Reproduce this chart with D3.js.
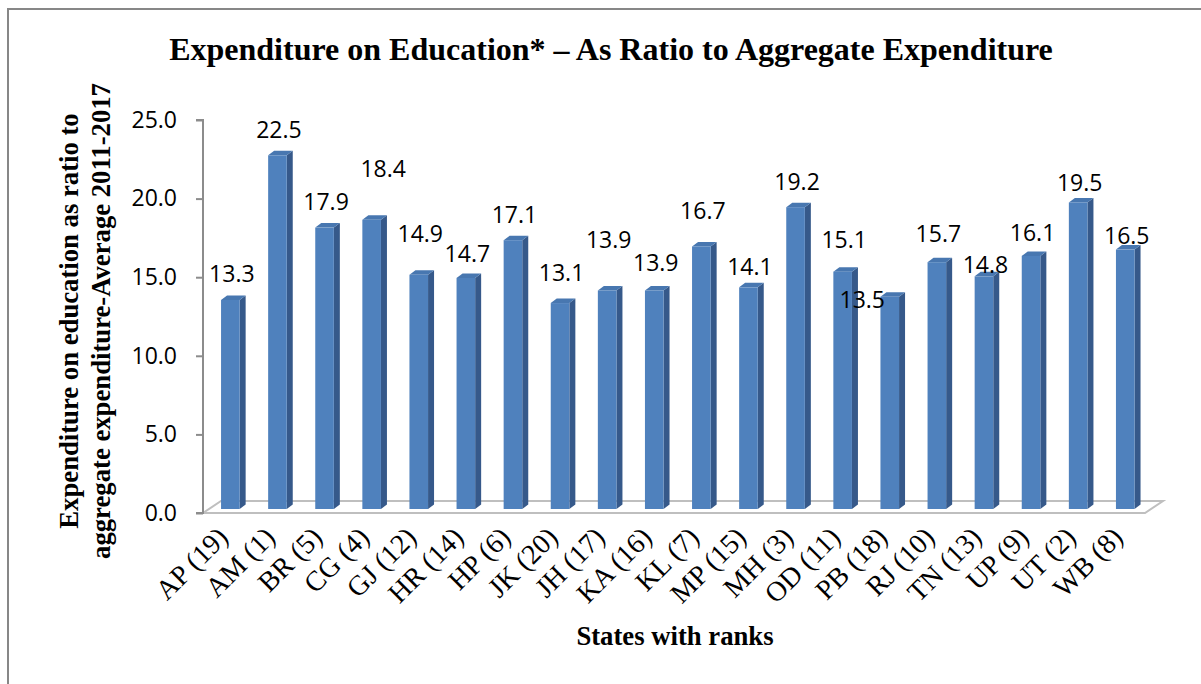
<!DOCTYPE html>
<html>
<head>
<meta charset="utf-8">
<script src="https://cdn.jsdelivr.net/npm/d3@7"></script>
<style>
  html, body { margin: 0; padding: 0; background: #fff; }
  svg { display: block; }
</style>
</head>
<body>
<svg id="chart" width="1201" height="684"></svg>
<script>
const categories = ["AP (19)", "AM (1)", "BR (5)", "CG (4)", "GJ (12)", "HR (14)", "HP (6)", "JK (20)", "JH (17)", "KA (16)", "KL (7)", "MP (15)", "MH (3)", "OD (11)", "PB (18)", "RJ (10)", "TN (13)", "UP (9)", "UT (2)", "WB (8)"];
const values = [13.3, 22.5, 17.9, 18.4, 14.9, 14.7, 17.1, 13.1, 13.9, 13.9, 16.7, 14.1, 19.2, 15.1, 13.5, 15.7, 14.8, 16.1, 19.5, 16.5];
const yTicks = [0, 5, 10, 15, 20, 25];
const titleText = "Expenditure on Education* \u2013 As Ratio to Aggregate Expenditure";
const yTitleLines = ["Expenditure on education as ratio to", "aggregate expenditure-Average 2011-2017"];
const xTitleText = "States with ranks";
// manual nudges of the data labels (layout only, in pixels)
const labelNudgeX = [0, 0, 0, 10, 0, 0, 0, 0, 0, 0, 0, 0, 0, 0, -29, 0, 0, 0, 0, 0];
const labelNudgeY = [0, 0, 0, -25, -15, 2, 0, -5, -25, -2, -10, 5, 0, -6, 29, -3, 14, 3, 6, 12];

const svg = d3.select("#chart");
const serif = "'Liberation Serif', 'Times New Roman', serif";
const sans = "'Open Sans', 'Noto Sans', sans-serif";

// outer border (extends past right/bottom edges)
svg.append("rect").attr("x", 8).attr("y", 9).attr("width", 1400).attr("height", 900)
  .attr("fill", "none").attr("stroke", "#878787").attr("stroke-width", 2);

const x = d3.scaleBand().domain(categories).range([203, 1145]).paddingInner(0).paddingOuter(0);
const y = d3.scaleLinear().domain([0, 25]).range([513, 120]);

const depthX = 18, depthY = -12;   // floor depth
const barDX = 6, barDY = -4.5;     // bar side depth
const barW = 18.6;
const barShift = -4;               // front face vertical shift

// floor
const fx0 = x.range()[0], fx1 = x.range()[1], fy = y(0);
svg.append("path").attr("d",
  `M${fx0},${fy} L${fx1},${fy} L${fx1 + depthX},${fy + depthY} L${fx0 + depthX},${fy + depthY} Z`)
  .attr("fill", "#fff").attr("stroke", "#bfbfbf").attr("stroke-width", 2);

// y axis
const yAxis = d3.axisLeft(y).tickValues(yTicks).tickFormat(d3.format(".1f")).tickSize(7).tickPadding(19);
const yg = svg.append("g").attr("transform", `translate(${fx0},0)`).call(yAxis);
yg.select(".domain").attr("stroke", "#8c8c8c").attr("stroke-width", 2).attr("d", `M-7,${y(25)}H0V${y(0)}H-7`);
yg.selectAll(".tick line").attr("stroke", "#8c8c8c").attr("stroke-width", 2);
yg.selectAll(".tick text").attr("font-family", sans).attr("font-size", 23).attr("fill", "#000");

// bars
const bars = svg.append("g");
const labels = svg.append("g");
categories.forEach((c, i) => {
  const v = values[i];
  const cx = x(c) + x.bandwidth() / 2;
  const L = cx - 5.5;
  const R = L + barW;
  const T = y(v) + barShift;
  const B = y(0) + barShift;
  const g = bars.append("g");
  g.append("path").attr("d", `M${R},${T} L${R + barDX},${T + barDY} L${R + barDX},${B + barDY} L${R},${B} Z`)
    .attr("fill", "#36598a");
  g.append("path").attr("d", `M${L},${T} L${R},${T} L${R + barDX},${T + barDY} L${L + barDX},${T + barDY} Z`)
    .attr("fill", "#4877b0");
  g.append("rect").attr("x", L).attr("y", T).attr("width", barW).attr("height", B - T).attr("fill", "#4f81bd");
  labels.append("text").attr("x", L + barW / 2 + 1.5 + labelNudgeX[i]).attr("y", T - 17.5 + labelNudgeY[i])
    .attr("text-anchor", "middle").attr("font-family", sans).attr("font-size", 23).attr("fill", "#000")
    .text(d3.format(".1f")(v));
  svg.append("text").attr("transform", `translate(${cx + 3},539) rotate(-45)`)
    .attr("text-anchor", "end").attr("font-family", serif).attr("font-size", 28).attr("fill", "#000")
    .text(c);
});

// title
svg.append("text").attr("x", 611).attr("y", 60).attr("text-anchor", "middle")
  .attr("font-family", serif).attr("font-weight", "bold").attr("font-size", 32).attr("fill", "#000")
  .text(titleText);

// y title
const yt = svg.append("text").attr("transform", "translate(78,321) rotate(-90)")
  .attr("text-anchor", "middle").attr("font-family", serif).attr("font-weight", "bold")
  .attr("font-size", 26.7).attr("fill", "#000");
yTitleLines.forEach((t, i) => {
  yt.append("tspan").attr("x", 0).attr("y", i * 32).text(t);
});

// x title
svg.append("text").attr("x", 675).attr("y", 645).attr("text-anchor", "middle")
  .attr("font-family", serif).attr("font-weight", "bold").attr("font-size", 26.7).attr("fill", "#000")
  .text(xTitleText);
</script>
</body>
</html>
